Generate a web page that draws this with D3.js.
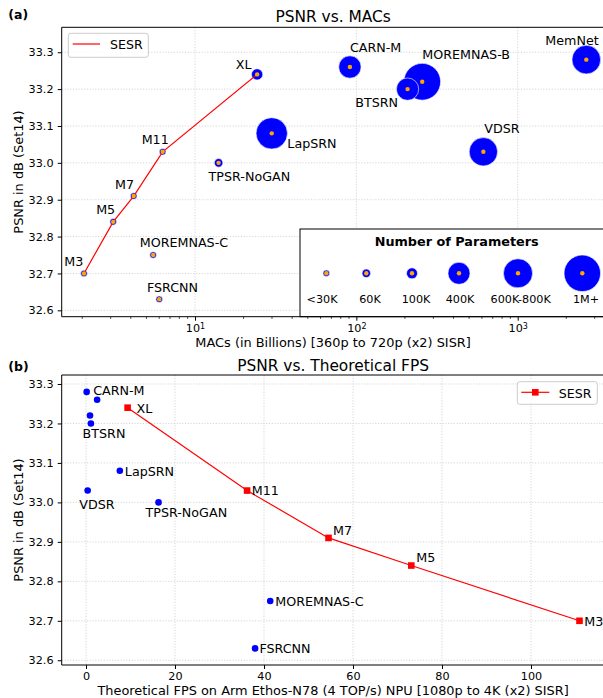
<!DOCTYPE html>
<html>
<head>
<meta charset="utf-8">
<script src="https://cdn.jsdelivr.net/npm/d3@7/dist/d3.min.js"></script>
<style>
  body { margin: 0; background: #fff; }
  svg { display: block; font-family: "DejaVu Sans", sans-serif; }
</style>
</head>
<body>
<svg id="chart" width="603" height="698"></svg>
<script>
// data
const models = ["M3", "M5", "M7", "M11", "XL", "FSRCNN", "MOREMNAS-C", "TPSR-NoGAN", "LapSRN", "VDSR", "CARN-M", "MOREMNAS-B", "BTSRN", "MemNet"];
const isSESR = [true, true, true, true, true, false, false, false, false, false, false, false, false, false];
const macsG = [2.05, 3.11, 4.17, 6.30, 24.27, 6.00, 5.5, 14.0, 29.9, 612.6, 91.2, 256, 207.7, 2662];
const psnrSet14 = [32.70, 32.84, 32.91, 33.03, 33.24, 32.63, 32.75, 33.00, 33.08, 33.03, 33.26, 33.22, 33.20, 33.28];
const paramsK = [8.91, 13.52, 18.12, 27.34, 105.37, 12.46, 25, 61, 813, 665, 412, 1118, 410, 677];
const fpsN78 = [110.9, 73.1, 54.5, 36.2, 9.35, 38.0, 41.4, 16.3, 7.6, 0.37, 2.5, 0.9, 1.1, 0.15];

const paramLegendLabels = ["<30K", "60K", "100K", "400K", "600K-800K", "1M+"];
const paramLegendValues = [30, 60, 100, 400, 700, 1100];

const psnrTicks = [32.6, 32.7, 32.8, 32.9, 33.0, 33.1, 33.2, 33.3];
const macsTicks = [10, 100, 1000];
const fpsTicks = [0, 20, 40, 60, 80, 100];

// label placement (pixels from point)
const labelTop = {
  "M3": [-19.7, -7.7], "M5": [-17, -7.4], "M7": [-18.7, -7.4], "M11": [-21, -7.7], "XL": [-21.3, -5.4],
  "FSRCNN": [-12.3, -7.3], "MOREMNAS-C": [-13.4, -7.7], "TPSR-NoGAN": [-10, 18], "LapSRN": [15.6, 15],
  "VDSR": [1, -19], "CARN-M": [0, -15], "MOREMNAS-B": [0, -22.3], "BTSRN": [-52.4, 17.7], "MemNet": [-41, -15]
};
const labelBottom = {
  "M3": [4.7, 5.3], "M5": [5, -3.4], "M7": [4.6, -3], "M11": [4.7, 4.8], "XL": [9, 5.6],
  "FSRCNN": [4.3, 4.6], "MOREMNAS-C": [5, 4.7], "TPSR-NoGAN": [-13, 14.4], "LapSRN": [5, 5.3],
  "VDSR": [-8.4, 18.6], "CARN-M": [-4, -4.3], "BTSRN": [-8.3, 14.6]
};

const rows = models.map((m, i) => ({
  name: m, sesr: isSESR[i], macs: macsG[i], psnr: psnrSet14[i], params: paramsK[i], fps: fpsN78[i]
}));
const sesrRows = rows.filter(d => d.sesr);

const svg = d3.select("#chart");
const L = 61.7, R = 604.5;
const tickFont = 11.2, labFont = 12.9, annFont = 12.7;

const rScale = d3.scaleSqrt().domain([0, 1000]).range([0, 17.4]);
const radius = p => Math.max(3.3, rScale(p));

function grid(g, x, y, xt, yt, top, bottom) {
  const gg = g.append("g").attr("stroke", "#cbcbcb").attr("stroke-width", 0.8).attr("stroke-dasharray", "1.2,1.6");
  xt.forEach(v => gg.append("line").attr("x1", x(v)).attr("x2", x(v)).attr("y1", top).attr("y2", bottom));
  yt.forEach(v => gg.append("line").attr("x1", L).attr("x2", R).attr("y1", y(v)).attr("y2", y(v)));
}

function yAxis(g, y) {
  const ax = g.append("g").attr("transform", `translate(${L},0)`)
    .call(d3.axisLeft(y).tickValues(psnrTicks).tickFormat(d3.format(".1f")).tickSize(4).tickPadding(4.2));
  ax.select(".domain").remove();
  ax.selectAll("text").attr("font-size", tickFont).attr("font-family", "DejaVu Sans").attr("fill", "#000");
}

function spines(g, top, bottom) {
  g.append("path").attr("d", `M${L},${bottom}V${top}H${R}V${bottom}Z`)
    .attr("fill", "none").attr("stroke", "#000").attr("stroke-width", 1);
}

// ---------- (a) PSNR vs MACs ----------
const aTop = 27.3, aBot = 316.7;
const xa = d3.scaleLog().domain([1.492, 3451]).range([L, R]);
const ya = d3.scaleLinear().domain([32.5827, 33.3677]).range([aBot, aTop]);
const ga = svg.append("g");

grid(ga, xa, ya, macsTicks, psnrTicks, aTop, aBot);

const xaAxis = ga.append("g").attr("transform", `translate(0,${aBot})`)
  .call(d3.axisBottom(xa).tickValues(macsTicks).tickSize(4).tickPadding(3.8).tickFormat(""));
xaAxis.select(".domain").remove();
xaAxis.selectAll(".tick text").each(function (d) {
  const t = d3.select(this).attr("font-size", tickFont).attr("font-family", "DejaVu Sans").attr("fill", "#000");
  t.text(null);
  t.append("tspan").text("10");
  t.append("tspan").attr("font-size", 8).attr("dy", "-0.45em").text(Math.round(Math.log10(d)));
});
const minor = xa.ticks().filter(v => Math.abs(Math.log10(v) - Math.round(Math.log10(v))) > 1e-6);
ga.append("g").selectAll("line").data(minor).join("line")
  .attr("x1", d => xa(d)).attr("x2", d => xa(d)).attr("y1", aBot).attr("y2", aBot + 2.2)
  .attr("stroke", "#000").attr("stroke-width", 0.7);
yAxis(ga, ya);

ga.append("g").selectAll("circle").data(rows).join("circle")
  .attr("cx", d => xa(d.macs)).attr("cy", d => ya(d.psnr)).attr("r", d => radius(d.params))
  .attr("fill", "#0000ff").attr("stroke", "#fff").attr("stroke-width", 0.6);
ga.append("path").datum(sesrRows)
  .attr("d", d3.line().x(d => xa(d.macs)).y(d => ya(d.psnr)))
  .attr("fill", "none").attr("stroke", "#ff0000").attr("stroke-width", 1.2);
ga.append("g").selectAll("circle").data(rows).join("circle")
  .attr("cx", d => xa(d.macs)).attr("cy", d => ya(d.psnr)).attr("r", 2.2).attr("fill", "#ffa500");

ga.append("g").selectAll("text").data(rows).join("text")
  .attr("x", d => xa(d.macs) + labelTop[d.name][0]).attr("y", d => ya(d.psnr) + labelTop[d.name][1])
  .attr("font-size", annFont).text(d => d.name);

// parameter-size inset
const inset = ga.append("g");
inset.append("rect").attr("x", 300).attr("y", 229).attr("width", 310).attr("height", aBot - 229)
  .attr("fill", "#fff").attr("stroke", "#000").attr("stroke-width", 1);
inset.append("text").attr("x", 456.7).attr("y", 245.5).attr("text-anchor", "middle")
  .attr("font-size", 12.8).attr("font-weight", "bold").text("Number of Parameters");
const insetX = [326.3, 366.3, 412, 459, 518, 582.3];
const insetLabX = [322, 370, 416, 460, 520.7, 586];
paramLegendValues.forEach((v, i) => {
  inset.append("circle").attr("cx", insetX[i]).attr("cy", 273.3).attr("r", radius(v))
    .attr("fill", "#0000ff").attr("stroke", "#fff").attr("stroke-width", 0.6);
  inset.append("circle").attr("cx", insetX[i]).attr("cy", 273.3).attr("r", 2.2).attr("fill", "#ffa500");
  inset.append("text").attr("x", insetLabX[i]).attr("y", 303.3).attr("text-anchor", "middle")
    .attr("font-size", tickFont).text(paramLegendLabels[i]);
});

spines(ga, aTop, aBot);

// legend
const lgA = ga.append("g");
lgA.append("rect").attr("x", 68.3).attr("y", 33.3).attr("width", 80).attr("height", 24).attr("rx", 2.5)
  .attr("fill", "#fff").attr("fill-opacity", 0.8).attr("stroke", "#cccccc");
lgA.append("line").attr("x1", 72.7).attr("x2", 100).attr("y1", 44).attr("y2", 44)
  .attr("stroke", "#ff0000").attr("stroke-width", 1.2);
lgA.append("text").attr("x", 110).attr("y", 49.3).attr("font-size", 12.6).text("SESR");

ga.append("text").attr("x", (L + R) / 2).attr("y", 21.7).attr("text-anchor", "middle")
  .attr("font-size", 15.4).text("PSNR vs. MACs");
ga.append("text").attr("x", 8.3).attr("y", 19).attr("font-size", 12.5).attr("font-weight", "bold").text("(a)");
ga.append("text").attr("x", (L + R) / 2).attr("y", 347).attr("text-anchor", "middle")
  .attr("font-size", labFont).text("MACs (in Billions) [360p to 720p (x2) SISR]");
ga.append("text").attr("transform", `translate(22.7,${(aTop + aBot) / 2}) rotate(-90)`)
  .attr("text-anchor", "middle").attr("font-size", labFont).text("PSNR in dB (Set14)");

// ---------- (b) PSNR vs Theoretical FPS ----------
const bTop = 375, bBot = 665;
const xb = d3.scaleLinear().domain([-5.461, 116.52]).range([L, R]);
const yb = d3.scaleLinear().domain([32.588, 33.3228]).range([bBot, bTop]);
const gb = svg.append("g");

grid(gb, xb, yb, fpsTicks, psnrTicks, bTop, bBot);
const xbAxis = gb.append("g").attr("transform", `translate(0,${bBot})`)
  .call(d3.axisBottom(xb).tickValues(fpsTicks).tickSize(4).tickPadding(3.2));
xbAxis.select(".domain").remove();
xbAxis.selectAll("text").attr("font-size", tickFont).attr("font-family", "DejaVu Sans").attr("fill", "#000");
yAxis(gb, yb);

gb.append("g").selectAll("circle").data(rows.filter(d => !d.sesr)).join("circle")
  .attr("cx", d => xb(d.fps)).attr("cy", d => yb(d.psnr)).attr("r", 3.3).attr("fill", "#0000ff");
gb.append("path").datum(sesrRows)
  .attr("d", d3.line().x(d => xb(d.fps)).y(d => yb(d.psnr)))
  .attr("fill", "none").attr("stroke", "#ff0000").attr("stroke-width", 1.2);
gb.append("g").selectAll("rect").data(sesrRows).join("rect")
  .attr("x", d => xb(d.fps) - 3.3).attr("y", d => yb(d.psnr) - 3.3).attr("width", 6.6).attr("height", 6.6)
  .attr("fill", "#ff0000");

gb.append("g").selectAll("text").data(rows.filter(d => labelBottom[d.name])).join("text")
  .attr("x", d => xb(d.fps) + labelBottom[d.name][0]).attr("y", d => yb(d.psnr) + labelBottom[d.name][1])
  .attr("font-size", annFont).text(d => d.name);

spines(gb, bTop, bBot);

const lgB = gb.append("g");
lgB.append("rect").attr("x", 517.3).attr("y", 381.7).attr("width", 80).attr("height", 22.6).attr("rx", 2.5)
  .attr("fill", "#fff").attr("fill-opacity", 0.8).attr("stroke", "#cccccc");
lgB.append("line").attr("x1", 521.3).attr("x2", 549.3).attr("y1", 392.3).attr("y2", 392.3)
  .attr("stroke", "#ff0000").attr("stroke-width", 1.2);
lgB.append("rect").attr("x", 535.3 - 3.3).attr("y", 392.3 - 3.3).attr("width", 6.6).attr("height", 6.6).attr("fill", "#ff0000");
lgB.append("text").attr("x", 558.7).attr("y", 397.7).attr("font-size", 12.6).text("SESR");

gb.append("text").attr("x", (L + R) / 2).attr("y", 370.5).attr("text-anchor", "middle")
  .attr("font-size", 15.4).text("PSNR vs. Theoretical FPS");
gb.append("text").attr("x", 8.3).attr("y", 371).attr("font-size", 12.5).attr("font-weight", "bold").text("(b)");
gb.append("text").attr("x", (L + R) / 2).attr("y", 695).attr("text-anchor", "middle")
  .attr("font-size", labFont).text("Theoretical FPS on Arm Ethos-N78 (4 TOP/s) NPU [1080p to 4K (x2) SISR]");
gb.append("text").attr("transform", `translate(22.7,${(bTop + bBot) / 2}) rotate(-90)`)
  .attr("text-anchor", "middle").attr("font-size", labFont).text("PSNR in dB (Set14)");
</script>
</body>
</html>
